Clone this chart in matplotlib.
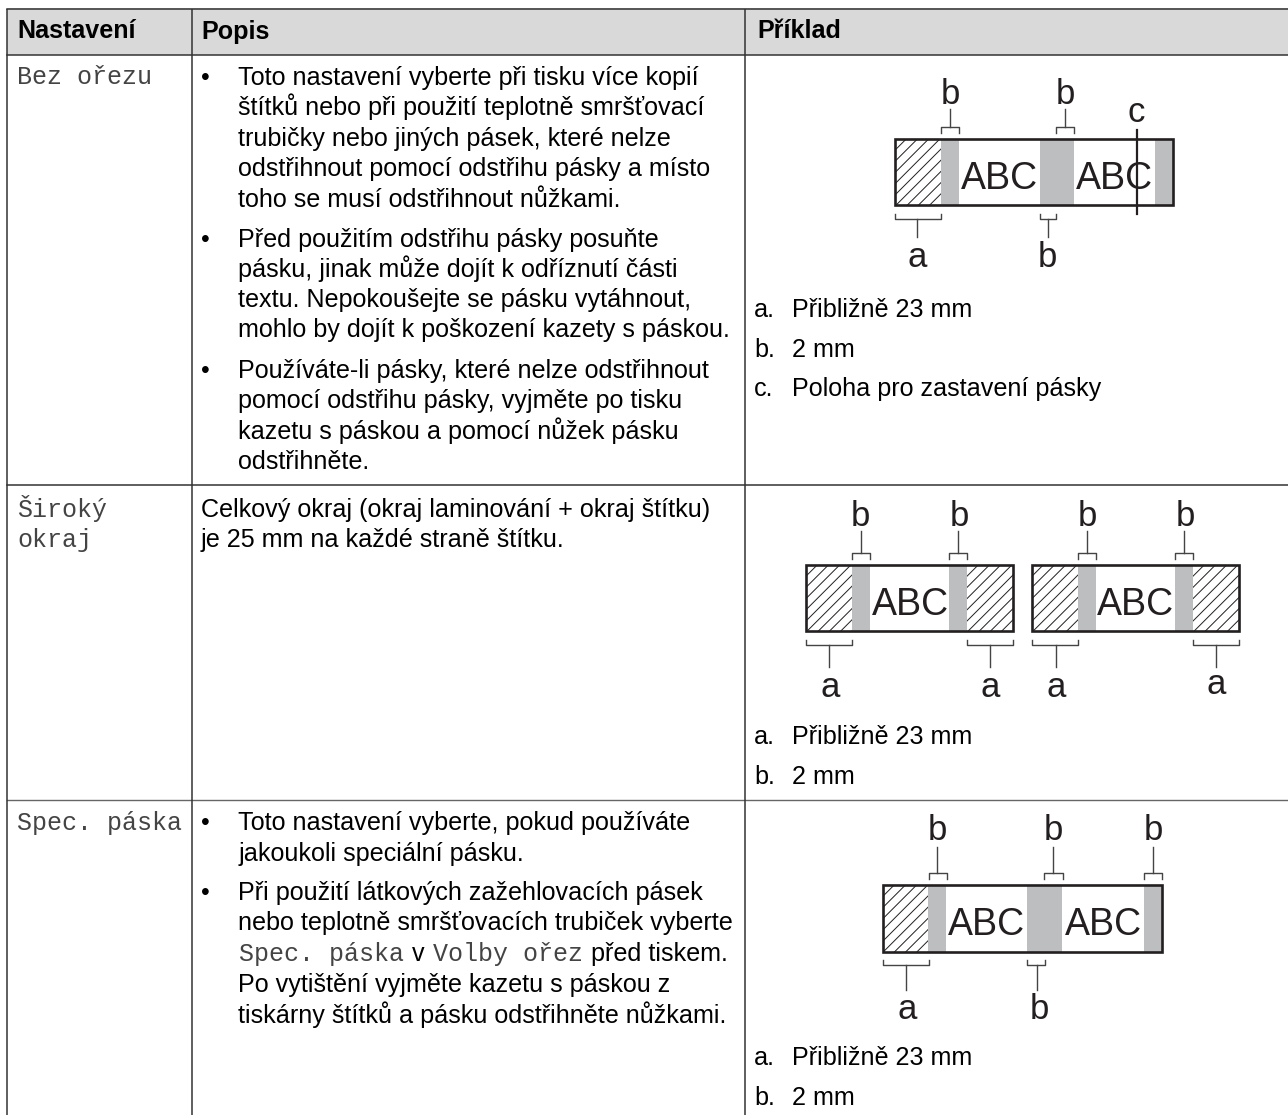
import numpy as np
import matplotlib
matplotlib.use("Agg")
import matplotlib.pyplot as plt
from matplotlib.patches import Rectangle

SANS = "Liberation Sans"
MONO = "Liberation Mono"
DARK = "#231f20"
GREY = "#bcbec0"
BODY = 18.1

headers = ["Nastavení", "Popis", "Příklad"]
header_x = [17, 201, 757]

# first column, monospaced
settings = [("Bez ořezu", 17, 84), ("Široký", 17, 517), ("okraj", 17, 547), ("Spec. páska", 17, 830)]

# (text, baseline, has bullet)
bullet_lines = [
    ("Toto nastavení vyberte při tisku více kopií", 85, True),
    ("štítků nebo při použití teplotně smršťovací", 115, False),
    ("trubičky nebo jiných pásek, které nelze", 146, False),
    ("odstřihnout pomocí odstřihu pásky a místo", 176, False),
    ("toho se musí odstřihnout nůžkami.", 207, False),
    ("Před použitím odstřihu pásky posuňte", 247, True),
    ("pásku, jinak může dojít k odříznutí části", 277, False),
    ("textu. Nepokoušejte se pásku vytáhnout,", 307, False),
    ("mohlo by dojít k poškození kazety s páskou.", 337, False),
    ("Používáte-li pásky, které nelze odstřihnout", 378, True),
    ("pomocí odstřihu pásky, vyjměte po tisku", 408, False),
    ("kazetu s páskou a pomocí nůžek pásku", 439, False),
    ("odstřihněte.", 469, False),
    ("Toto nastavení vyberte, pokud používáte", 830, True),
    ("jakoukoli speciální pásku.", 861, False),
    ("Při použití látkových zažehlovacích pásek", 900, True),
    ("nebo teplotně smršťovacích trubiček vyberte", 930, False),
    ("Po vytištění vyjměte kazetu s páskou z", 992, False),
    ("tiskárny štítků a pásku odstřihněte nůžkami.", 1023, False),
]
plain_lines = [
    ("Celkový okraj (okraj laminování + okraj štítku)", 201, 517),
    ("je 25 mm na každé straně štítku.", 201, 547),
]
notes = [
    ("a.", "Přibližně 23 mm", 317),
    ("b.", "2 mm", 357),
    ("c.", "Poloha pro zastavení pásky", 396),
    ("a.", "Přibližně 23 mm", 744),
    ("b.", "2 mm", 784),
    ("a.", "Přibližně 23 mm", 1065),
    ("b.", "2 mm", 1105),
]

# diagrams: rectangle box, hatched spans, grey spans
tape_boxes = [(895, 1173, 139, 205), (806, 1013, 565, 631), (1032, 1239, 565, 631), (883, 1162, 885, 952)]
hatch_spans = [(895, 941), (806, 852), (967, 1013), (1032, 1078), (1193, 1239), (883, 928)]
grey_spans = [
    (941, 959, 139, 205), (1040, 1074, 139, 205), (1155, 1173, 139, 205),
    (852, 870, 565, 631), (949, 967, 565, 631), (1078, 1096, 565, 631), (1175, 1193, 565, 631),
    (928, 946, 885, 952), (1027, 1062, 885, 952), (1144, 1162, 885, 952),
]
abc_labels = [(999, 189), (1114, 189), (910, 615), (1135, 615), (986, 935), (1103, 935)]

# bracket: x0, x1, stem x, near y, far y, label, label x, label baseline
brackets_top = [
    (941, 959, 950, 127, 109, "b", 950, 104), (1056, 1074, 1065, 127, 109, "b", 1065, 104),
    (852, 870, 861, 553, 531, "b", 860, 526), (949, 967, 958, 553, 531, "b", 959, 526),
    (1078, 1096, 1087, 553, 531, "b", 1087, 526), (1175, 1193, 1184, 553, 531, "b", 1185, 526),
    (929, 947, 937, 873, 847, "b", 937, 840), (1044, 1063, 1053, 873, 847, "b", 1053, 840),
    (1144, 1162, 1153, 873, 847, "b", 1153, 840),
]
brackets_bottom = [
    (895, 941, 917, 219, 237, "a", 917, 267), (1040, 1056, 1048, 219, 237, "b", 1047, 267),
    (806, 852, 829, 645, 667, "a", 830, 697), (967, 1013, 990, 645, 667, "a", 990, 697),
    (1032, 1078, 1056, 645, 667, "a", 1056, 697), (1193, 1239, 1216, 645, 667, "a", 1216, 694),
    (883, 929, 906, 965, 990, "a", 907, 1019), (1027, 1045, 1037, 965, 990, "b", 1039, 1019),
]

fig = plt.figure(figsize=(12.88, 11.15), dpi=100, facecolor="white")
ax = fig.add_axes([0, 0, 1, 1])
ax.set_xlim(0, 1288)
ax.set_ylim(1115, 0)
ax.axis("off")

# table
ax.add_patch(Rectangle((7.5, 8), 1281, 47, fc="#d9d9d9", ec="none"))
ax.plot([7.5, 1288], [8.5, 8.5], color="#333333", lw=1.1)
ax.plot([7.5, 1288], [55, 55], color="#333333", lw=1.1)
ax.plot([7.5, 1288], [485, 485], color="#333333", lw=1.1)
ax.plot([7.5, 1288], [799.5, 799.5], color="#666666", lw=1)
for x in [7.5, 192.5, 745.5]:
    ax.plot([x, x], [8.5, 1115], color="#333333", lw=1.1, solid_capstyle="butt")

for text, x in zip(headers, header_x):
    ax.text(x, 38.5, text, fontfamily=SANS, fontweight="bold", fontsize=BODY, va="baseline", color="black")
for text, x, y in settings:
    ax.text(x, y, text, fontfamily=MONO, fontsize=18, va="baseline", color="#444444")
for text, y, bullet in bullet_lines:
    ax.text(238.5, y, text, fontfamily=SANS, fontsize=BODY, va="baseline", color="black")
    if bullet:
        ax.text(205, y, "•", fontfamily=SANS, fontsize=BODY, ha="center", va="baseline", color="black")
for text, x, y in plain_lines:
    ax.text(x, y, text, fontfamily=SANS, fontsize=BODY, va="baseline", color="black")

# line with mixed fonts
ax.text(239, 961, "Spec. páska", fontfamily=MONO, fontsize=18, va="baseline", color="#444444")
ax.text(412, 961, "v", fontfamily=SANS, fontsize=BODY, va="baseline")
ax.text(433, 961, "Volby ořez", fontfamily=MONO, fontsize=18, va="baseline", color="#444444")
ax.text(591, 961, "před tiskem.", fontfamily=SANS, fontsize=BODY, va="baseline")

for letter, text, y in notes:
    ax.text(754, y, letter, fontfamily=SANS, fontsize=BODY, va="baseline")
    ax.text(792, y, text, fontfamily=SANS, fontsize=BODY, va="baseline")

# diagrams
for x0, x1, y0, y1 in grey_spans:
    ax.add_patch(Rectangle((x0, y0), x1 - x0, y1 - y0, fc=GREY, ec="none", zorder=2))
box_by_span = [tape_boxes[0], tape_boxes[1], tape_boxes[1], tape_boxes[2], tape_boxes[2], tape_boxes[3]]
for (x0, x1), box in zip(hatch_spans, box_by_span):
    y0, y1 = box[2], box[3]
    clip = Rectangle((x0, y0), x1 - x0, y1 - y0, fc="none", ec="none", transform=ax.transData)
    ax.add_patch(clip)
    for start in np.arange(x0 - (y1 - y0), x1 + 1, 11.2):
        line, = ax.plot([start, start + (y1 - y0)], [y1, y0], color=DARK, lw=0.7, zorder=2)
        line.set_clip_path(clip)
for x0, x1, y0, y1 in tape_boxes:
    ax.add_patch(Rectangle((x0, y0), x1 - x0, y1 - y0, fc="none", ec=DARK, lw=1.9, zorder=3))
for x, y in abc_labels:
    ax.text(x, y, "ABC", fontfamily=SANS, fontsize=27, ha="center", va="baseline", color=DARK, zorder=4)

for x0, x1, sx, near, far, label, lx, ly in brackets_top:
    ax.plot([x0, x0, x1, x1], [near + 5.5, near, near, near + 5.5], color="#444444", lw=1, zorder=3)
    ax.plot([sx, sx], [near, far], color="#444444", lw=1, zorder=3)
    ax.text(lx, ly, label, fontfamily=SANS, fontsize=25, ha="center", va="baseline", color=DARK)
for x0, x1, sx, near, far, label, lx, ly in brackets_bottom:
    ax.plot([x0, x0, x1, x1], [near - 5.5, near, near, near - 5.5], color="#444444", lw=1, zorder=3)
    ax.plot([sx, sx], [near, far], color="#444444", lw=1, zorder=3)
    ax.text(lx, ly, label, fontfamily=SANS, fontsize=25, ha="center", va="baseline", color=DARK)

# cut line c
ax.plot([1137, 1137], [130, 214], color=DARK, lw=1.6, zorder=5)
ax.text(1136, 122, "c", fontfamily=SANS, fontsize=25, ha="center", va="baseline", color=DARK)

fig.savefig("out.png", dpi=100)
